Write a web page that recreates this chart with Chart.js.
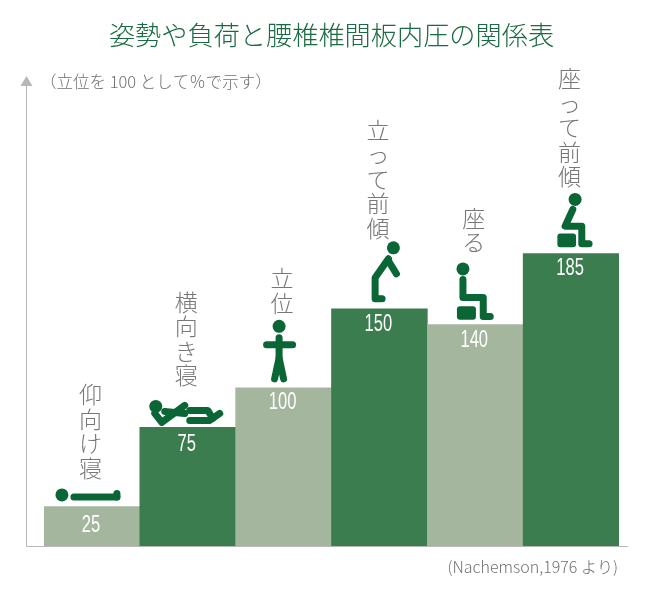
<!DOCTYPE html>
<html>
<head>
<meta charset="utf-8">
<title>姿勢や負荷と腰椎椎間板内圧の関係表</title>
<script src="https://cdn.jsdelivr.net/npm/chart.js@4"></script>
<style>
  html, body { margin: 0; padding: 0; background: #fff; }
  canvas { display: block; }
</style>
</head>
<body>
<canvas id="myChart" width="650" height="600"></canvas>
<script>
// data
var categories = ['仰向け寝', '横向き寝', '立位', '立って前傾', '座る', '座って前傾'];
var pressure = [25, 75, 100, 150, 140, 185];
var barColors = ['#a4b79e', '#3c7d50', '#a4b79e', '#3c7d50', '#a4b79e', '#3c7d50'];

var titleText = '姿勢や負荷と腰椎椎間板内圧の関係表';
var unitNote = '（立位を 100 として％で示す）';
var sourceNote = '(Nachemson,1976 より)';

// how far above the bar top the last label glyph sits
var labelLift = [38.5, 52, 85, 81, 82, 77];
// how far below the bar top the value sits
var valueDrop = [19, 17, 15, 16, 16, 15];

var jpFont = '"Noto Sans CJK JP", "Noto Sans", sans-serif';
var iconColor = '#0b6636';

// pictograms, relative to top centre of their bar
var icons = [
  { head: [-30, -11.5, 6.5], lines: [[[-18, -9.5], [25, -9.5]], [[25, -9.5], [25, -13]]] },
  { head: [-32, -21, 6.5], lines: [
    [[-33, -14], [-26, -5], [-3, -22]],
    [[-23, -16], [-3, -14]],
    [[2, -17], [20, -17], [25, -9]],
    [[2, -7], [22, -7], [32, -14]]] },
  { head: [-4.5, -61.5, 6.5], lines: [
    [[-4.5, -50], [-4.5, -30], [-9, -9]],
    [[-4.5, -30], [0, -9]],
    [[-17, -43], [9, -43]]] },
  { head: [14, -61, 6.5], lines: [
    [[9, -50], [-4.3, -31], [-4.3, -10], [2.7, -10]],
    [[9, -48], [17, -35]]] },
  { head: [-12.3, -55.7, 6.5], lines: [
    [[-12.3, -45], [-12.3, -27], [8, -27], [8, -8], [15, -8]]],
    seat: [-18.3, -18.3, 19, 13.5] },
  { head: [4, -54, 6.5], lines: [
    [[1.7, -44], [-6, -27.3], [10.7, -27.3], [10.7, -9.7], [18, -9.7]]],
    seat: [-13.7, -20, 18.7, 13.7] },
];

function drawIcon(ctx, icon, cx, top) {
  ctx.fillStyle = iconColor;
  ctx.strokeStyle = iconColor;
  ctx.lineWidth = 7;
  ctx.lineCap = 'round';
  ctx.lineJoin = 'round';
  ctx.beginPath();
  ctx.arc(cx + icon.head[0], top + icon.head[1], icon.head[2], 0, Math.PI * 2);
  ctx.fill();
  icon.lines.forEach(function (line) {
    ctx.beginPath();
    line.forEach(function (p, i) {
      if (i == 0) ctx.moveTo(cx + p[0], top + p[1]);
      else ctx.lineTo(cx + p[0], top + p[1]);
    });
    ctx.stroke();
  });
  if (icon.seat) {
    ctx.beginPath();
    ctx.roundRect(cx + icon.seat[0], top + icon.seat[1], icon.seat[2], icon.seat[3], 3);
    ctx.fill();
  }
}

// axis arrow, vertical labels, pictograms and value labels
var decorations = {
  id: 'decorations',
  afterDatasetsDraw: function (chart) {
    var ctx = chart.ctx;
    var area = chart.chartArea;
    var meta = chart.getDatasetMeta(0);
    var axisX = area.left - 17.5;
    var axisY = chart.scales.y.getPixelForValue(0);
    ctx.save();

    ctx.strokeStyle = '#b8b8b8';
    ctx.lineWidth = 1;
    ctx.beginPath();
    ctx.moveTo(axisX, area.top + 14);
    ctx.lineTo(axisX, axisY + 0.5);
    ctx.lineTo(area.right + 9, axisY + 0.5);
    ctx.stroke();
    ctx.fillStyle = '#b8b8b8';
    ctx.beginPath();
    ctx.moveTo(axisX, area.top + 6);
    ctx.lineTo(axisX - 6, area.top + 16);
    ctx.lineTo(axisX + 6, area.top + 16);
    ctx.closePath();
    ctx.fill();

    ctx.textBaseline = 'middle';
    ctx.textAlign = 'left';
    ctx.fillStyle = '#707070';
    ctx.font = '300 16.5px ' + jpFont;
    ctx.fillText(unitNote, 40, 82);
    ctx.textAlign = 'right';
    ctx.font = '300 16px ' + jpFont;
    ctx.fillText(sourceNote, 618, 567);

    meta.data.forEach(function (bar, i) {
      ctx.save();
      ctx.translate(bar.x - 1, bar.y + valueDrop[i]);
      ctx.scale(0.72, 1);
      ctx.textAlign = 'center';
      ctx.fillStyle = '#ffffff';
      ctx.font = '23px "Liberation Sans", sans-serif';
      ctx.fillText(String(pressure[i]), 0, 0);
      ctx.restore();

      ctx.textAlign = 'center';
      ctx.fillStyle = '#777777';
      ctx.font = '300 23px ' + jpFont;
      var chars = Array.from(categories[i]);
      chars.forEach(function (c, k) {
        var y = bar.y - labelLift[i] - (chars.length - 1 - k) * 24.5;
        ctx.fillText(c, bar.x - 1.5, y);
      });

      drawIcon(ctx, icons[i], bar.x, bar.y);
    });
    ctx.restore();
  },
};

var ctx = document.getElementById('myChart').getContext('2d');
var myChart = new Chart(ctx, {
  type: 'bar',
  data: {
    labels: categories,
    datasets: [
      {
        data: pressure,
        backgroundColor: barColors,
        barPercentage: 1,
        categoryPercentage: 1,
        borderWidth: 0,
      },
    ],
  },
  options: {
    responsive: false,
    animation: false,
    devicePixelRatio: 1,
    layout: { padding: { left: 44, right: 31, bottom: 54 } },
    scales: {
      x: { display: false },
      y: { display: false, min: 0, max: 301 },
    },
    plugins: {
      legend: { display: false },
      tooltip: { enabled: false },
      title: {
        display: true,
        text: titleText,
        color: '#1b6b42',
        font: { family: jpFont, size: 26.2, weight: '300' },
        padding: { top: 19, bottom: 19.6 },
      },
    },
  },
  plugins: [decorations],
});
</script>
</body>
</html>
